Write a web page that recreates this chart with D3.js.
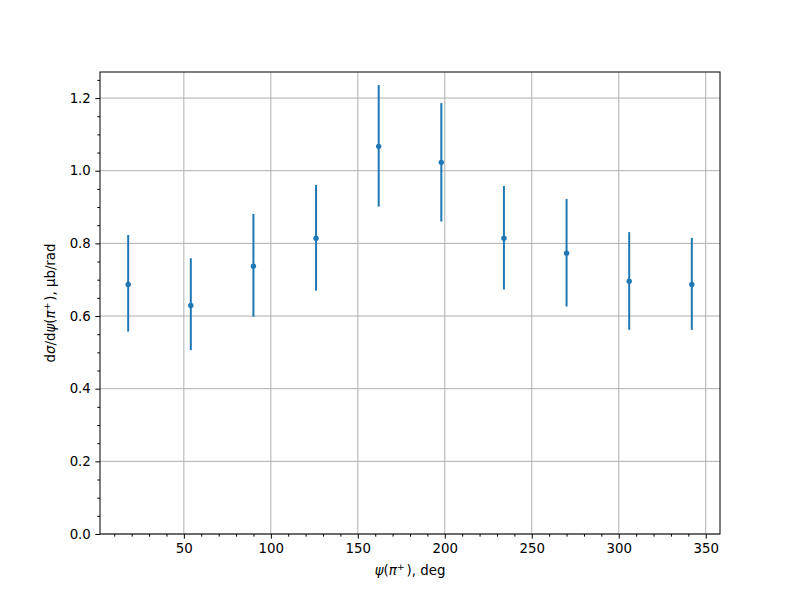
<!DOCTYPE html>
<html><head><meta charset="utf-8">
<script src="https://cdn.jsdelivr.net/npm/d3@7"></script>
<style>body{margin:0;background:#fff}svg{display:block}text{font-family:"DejaVu Sans",sans-serif}</style>
</head><body>
<script>
const psi = [18, 54, 90, 126, 162, 198, 234, 270, 306, 342];
const sigma = [0.687, 0.629, 0.737, 0.814, 1.067, 1.023, 0.814, 0.773, 0.696, 0.687];
const errUp = [0.136, 0.130, 0.144, 0.147, 0.169, 0.163, 0.144, 0.149, 0.135, 0.128];
const errDown = [0.130, 0.123, 0.139, 0.144, 0.166, 0.163, 0.141, 0.147, 0.134, 0.125];
const xTicks = [50, 100, 150, 200, 250, 300, 350];
const yTicks = [0.0, 0.2, 0.4, 0.6, 0.8, 1.0, 1.2];

const W = 800, H = 600;
const m = {l: 100, r: 80, t: 72, b: 66};
const svg = d3.select("body").append("svg").attr("width", W).attr("height", H);
const x = d3.scaleLinear().domain([1.8, 358.2]).range([m.l, W - m.r]);
const y = d3.scaleLinear().domain([0, 1.2717]).range([H - m.b, m.t]);
const color = "#1f77b4";

// grid
svg.append("g").selectAll("line").data(xTicks).join("line")
  .attr("x1", d => x(d)).attr("x2", d => x(d)).attr("y1", m.t).attr("y2", H - m.b)
  .attr("stroke", "#b0b0b0").attr("stroke-width", 1);
svg.append("g").selectAll("line").data(yTicks).join("line")
  .attr("y1", d => y(d)).attr("y2", d => y(d)).attr("x1", m.l).attr("x2", W - m.r)
  .attr("stroke", "#b0b0b0").attr("stroke-width", 1);

// axes
const fmtY = d3.format(".1f");
const xAxis = d3.axisBottom(x).tickValues(xTicks).tickSizeInner(4.67).tickSizeOuter(0).tickPadding(4.5);
const yAxis = d3.axisLeft(y).tickValues(yTicks).tickFormat(fmtY).tickSizeInner(4.67).tickSizeOuter(0).tickPadding(4.5);
const xMinor = d3.range(10, 360, 10).filter(v => v % 50 !== 0);
const yMinor = d3.range(0.05, 1.27, 0.05).filter(v => Math.abs(v * 5 - Math.round(v * 5)) > 1e-6);
const gx = svg.append("g").attr("transform", `translate(0,${H - m.b})`).call(xAxis);
const gy = svg.append("g").attr("transform", `translate(${m.l},0)`).call(yAxis);
svg.append("g").attr("transform", `translate(0,${H - m.b})`)
  .call(d3.axisBottom(x).tickValues(xMinor).tickSize(2.67).tickFormat(""))
  .select(".domain").remove();
svg.append("g").attr("transform", `translate(${m.l},0)`)
  .call(d3.axisLeft(y).tickValues(yMinor).tickSize(2.67).tickFormat(""))
  .select(".domain").remove();
svg.selectAll(".tick text").attr("font-size", 13.33).attr("font-family", "DejaVu Sans").attr("fill", "#000");
svg.selectAll(".tick line").attr("stroke", "#000").attr("stroke-width", 1);
gx.select(".domain").remove(); gy.select(".domain").remove();

// frame
svg.append("rect").attr("x", m.l).attr("y", m.t).attr("width", W - m.l - m.r).attr("height", H - m.t - m.b)
  .attr("fill", "none").attr("stroke", "#000").attr("stroke-width", 1);

// error bars
const data = psi.map((p, i) => ({p, s: sigma[i], up: errUp[i], dn: errDown[i]}));
svg.append("g").selectAll("line").data(data).join("line")
  .attr("x1", d => x(d.p)).attr("x2", d => x(d.p))
  .attr("y1", d => y(d.s - d.dn)).attr("y2", d => y(d.s + d.up))
  .attr("stroke", color).attr("stroke-width", 2);
svg.append("g").selectAll("circle").data(data).join("circle")
  .attr("cx", d => x(d.p)).attr("cy", d => y(d.s)).attr("r", 2.7).attr("fill", color);

// labels
const xl = svg.append("text").attr("x", (m.l + W - m.r) / 2).attr("y", 575)
  .attr("text-anchor", "middle").attr("font-size", 13.33);
xl.append("tspan").attr("font-style", "italic").text("ψ");
xl.append("tspan").text("(");
xl.append("tspan").attr("font-style", "italic").text("π");
xl.append("tspan").attr("font-size", 9.5).attr("dy", -5).text("+\u2009");
xl.append("tspan").attr("dy", 5).text("), deg");

const yl = svg.append("text").attr("transform", `translate(55,${(m.t + H - m.b) / 2}) rotate(-90)`)
  .attr("text-anchor", "middle").attr("font-size", 13.33);
yl.append("tspan").text("d");
yl.append("tspan").attr("font-style", "italic").text("σ");
yl.append("tspan").text("/d");
yl.append("tspan").attr("font-style", "italic").text("ψ");
yl.append("tspan").text("(");
yl.append("tspan").attr("font-style", "italic").text("π");
yl.append("tspan").attr("font-size", 9.5).attr("dy", -5).text("+\u2009");
yl.append("tspan").attr("dy", 5).text("), μb/rad");
</script>
</body></html>
